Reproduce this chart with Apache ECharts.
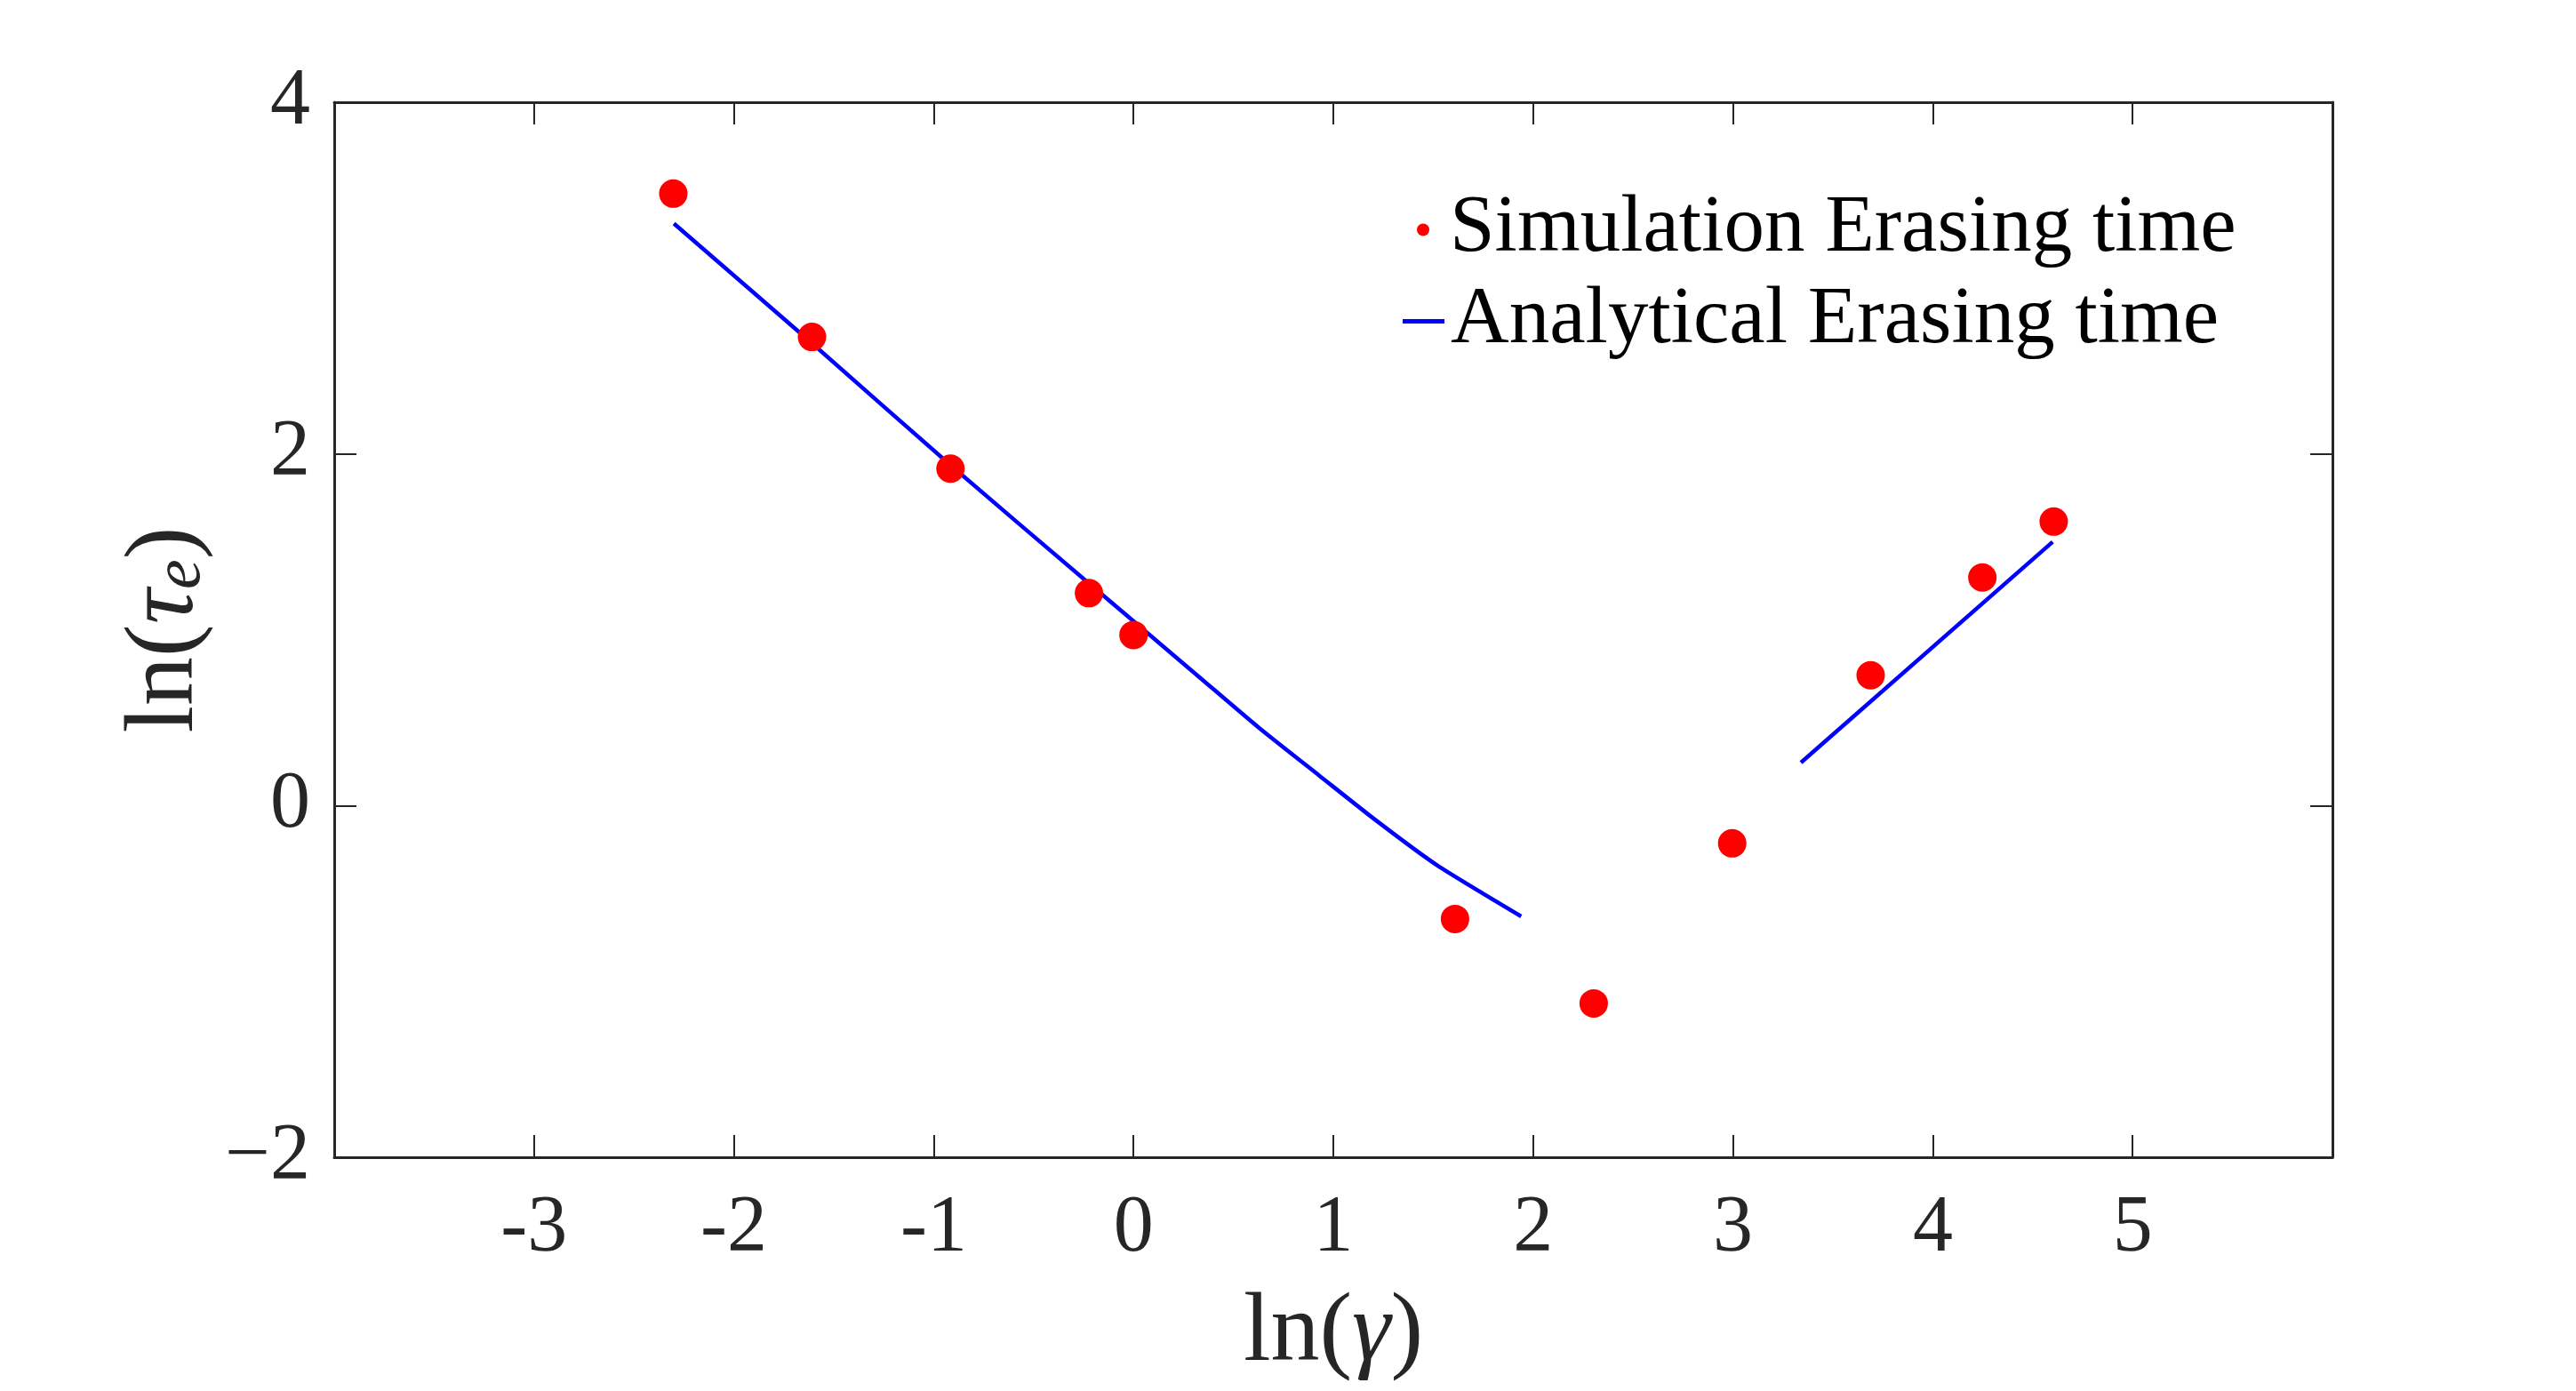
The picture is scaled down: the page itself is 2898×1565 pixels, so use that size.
<!DOCTYPE html>
<html>
<head>
<meta charset="utf-8">
<script src="https://cdn.jsdelivr.net/npm/echarts@6/dist/echarts.min.js"></script>
<style>
html,body{margin:0;padding:0;background:#fff;}
#chart{width:2898px;height:1565px;}
</style>
</head>
<body>
<div id="chart"></div>
<script>
// ---- data ----
const simX = [-2.303, -1.609, -0.916, -0.223, 0.000, 1.609, 2.303, 2.996, 3.689, 4.248, 4.605];
const simY = [3.480, 2.665, 1.916, 1.208, 0.970, -0.645, -1.125, -0.215, 0.741, 1.297, 1.615];
const anaLowX = [-2.30, -1.61, -0.92, -0.23, 0.04, 0.33, 0.63, 0.93, 1.22, 1.52, 1.94];
const anaLowY = [3.31, 2.63, 1.94, 1.27, 1.01, 0.73, 0.44, 0.17, -0.09, -0.34, -0.63];
const anaHighX = [3.34, 4.60];
const anaHighY = [0.244, 1.50];
const xTickLabels = {'-3':'-3','-2':'-2','-1':'-1','0':'0','1':'1','2':'2','3':'3','4':'4','5':'5'};
const yTickLabels = {'-2':'\u22122','0':'0','2':'2','4':'4'};
const simName = 'Simulation Erasing time';
const anaName = 'Analytical Erasing time';

const FONT = 'Liberation Serif';
const INK = '#262626';

const zip = (xs, ys) => xs.map((x, i) => [x, ys[i]]);

const chart = echarts.init(document.getElementById('chart'), null, {renderer: 'canvas'});

const baseX = {
  type: 'value', min: -4, max: 6, interval: 1,
  splitLine: {show: false},
  axisLine: {show: true, onZero: false, lineStyle: {color: INK, width: 3}},
  axisTick: {show: true, inside: true, length: 25, lineStyle: {color: INK, width: 2}}
};
const baseY = {
  type: 'value', min: -2, max: 4, interval: 2,
  splitLine: {show: false},
  axisLine: {show: true, onZero: false, lineStyle: {color: INK, width: 3}},
  axisTick: {show: true, inside: true, length: 25, lineStyle: {color: INK, width: 2}}
};

chart.setOption({
  animation: false,
  backgroundColor: '#ffffff',
  grid: {left: 376, top: 115, width: 2248, height: 1187, containLabel: false},
  xAxis: [
    Object.assign({}, baseX, {
      position: 'bottom',
      axisLabel: {
        show: true, margin: 36, color: INK, fontFamily: FONT, fontSize: 90, lineHeight: 90,
        formatter: v => (xTickLabels[String(Math.round(v))] || '')
      },
      name: '{a|ln(}{g|\u03B3}{a|)}',
      nameLocation: 'middle',
      nameGap: 144,
      nameTextStyle: {
        rich: {
          a: {fontFamily: FONT, fontSize: 110, color: INK, lineHeight: 110},
          g: {fontFamily: FONT, fontSize: 110, fontStyle: 'italic', color: INK, lineHeight: 110}
        }
      }
    }),
    Object.assign({}, baseX, {
      position: 'top',
      axisLabel: {show: false}
    })
  ],
  yAxis: [
    Object.assign({}, baseY, {
      position: 'left',
      axisLabel: {
        show: true, margin: 27, color: INK, fontFamily: FONT, fontSize: 90, lineHeight: 90,
        formatter: v => (yTickLabels[String(Math.round(v))] || '')
      },
      name: '{a|ln(}{t|\u03C4}{s|e}{a|)}',
      nameLocation: 'middle',
      nameRotate: 90,
      nameGap: 110,
      nameTextStyle: {
        rich: {
          a: {fontFamily: FONT, fontSize: 110, color: INK, lineHeight: 110},
          t: {fontFamily: FONT, fontSize: 110, fontStyle: 'italic', color: INK, lineHeight: 110},
          s: {fontFamily: FONT, fontSize: 76, fontStyle: 'italic', color: INK, lineHeight: 76, verticalAlign: 'bottom', padding: [44, 0, 0, 0]}
        }
      }
    }),
    Object.assign({}, baseY, {
      position: 'right',
      axisLabel: {show: false}
    })
  ],
  legend: [
    {
      orient: 'vertical',
      left: 1589, top: 208, padding: 5,
      itemWidth: 14, itemHeight: 14,
      data: [{name: simName, icon: 'circle'}],
      textStyle: {fontFamily: FONT, fontSize: 91, lineHeight: 91, color: '#000', padding: [0, 0, 0, 18]},
      selectedMode: false
    },
    {
      orient: 'vertical',
      left: 1573, top: 311, padding: 5,
      itemWidth: 47, itemHeight: 5,
      data: [{name: anaName, icon: 'rect'}],
      textStyle: {fontFamily: FONT, fontSize: 91, lineHeight: 91, color: '#000', padding: [0, 0, 0, 2]},
      selectedMode: false
    }
  ],
  series: [
    {
      name: anaName, type: 'line', xAxisIndex: 0, yAxisIndex: 0,
      data: zip(anaLowX, anaLowY),
      showSymbol: false, symbol: 'none',
      smooth: 0.2,
      lineStyle: {color: '#0000ff', width: 4.5},
      itemStyle: {color: '#0000ff'},
      z: 2
    },
    {
      name: anaName, type: 'line', xAxisIndex: 0, yAxisIndex: 0,
      data: zip(anaHighX, anaHighY),
      showSymbol: false, symbol: 'none',
      lineStyle: {color: '#0000ff', width: 4.5},
      itemStyle: {color: '#0000ff'},
      z: 2
    },
    {
      name: simName, type: 'scatter', xAxisIndex: 0, yAxisIndex: 0,
      data: zip(simX, simY),
      symbol: 'circle', symbolSize: 32,
      itemStyle: {color: '#ff0000', opacity: 1},
      z: 3
    }
  ]
});
</script>
</body>
</html>
